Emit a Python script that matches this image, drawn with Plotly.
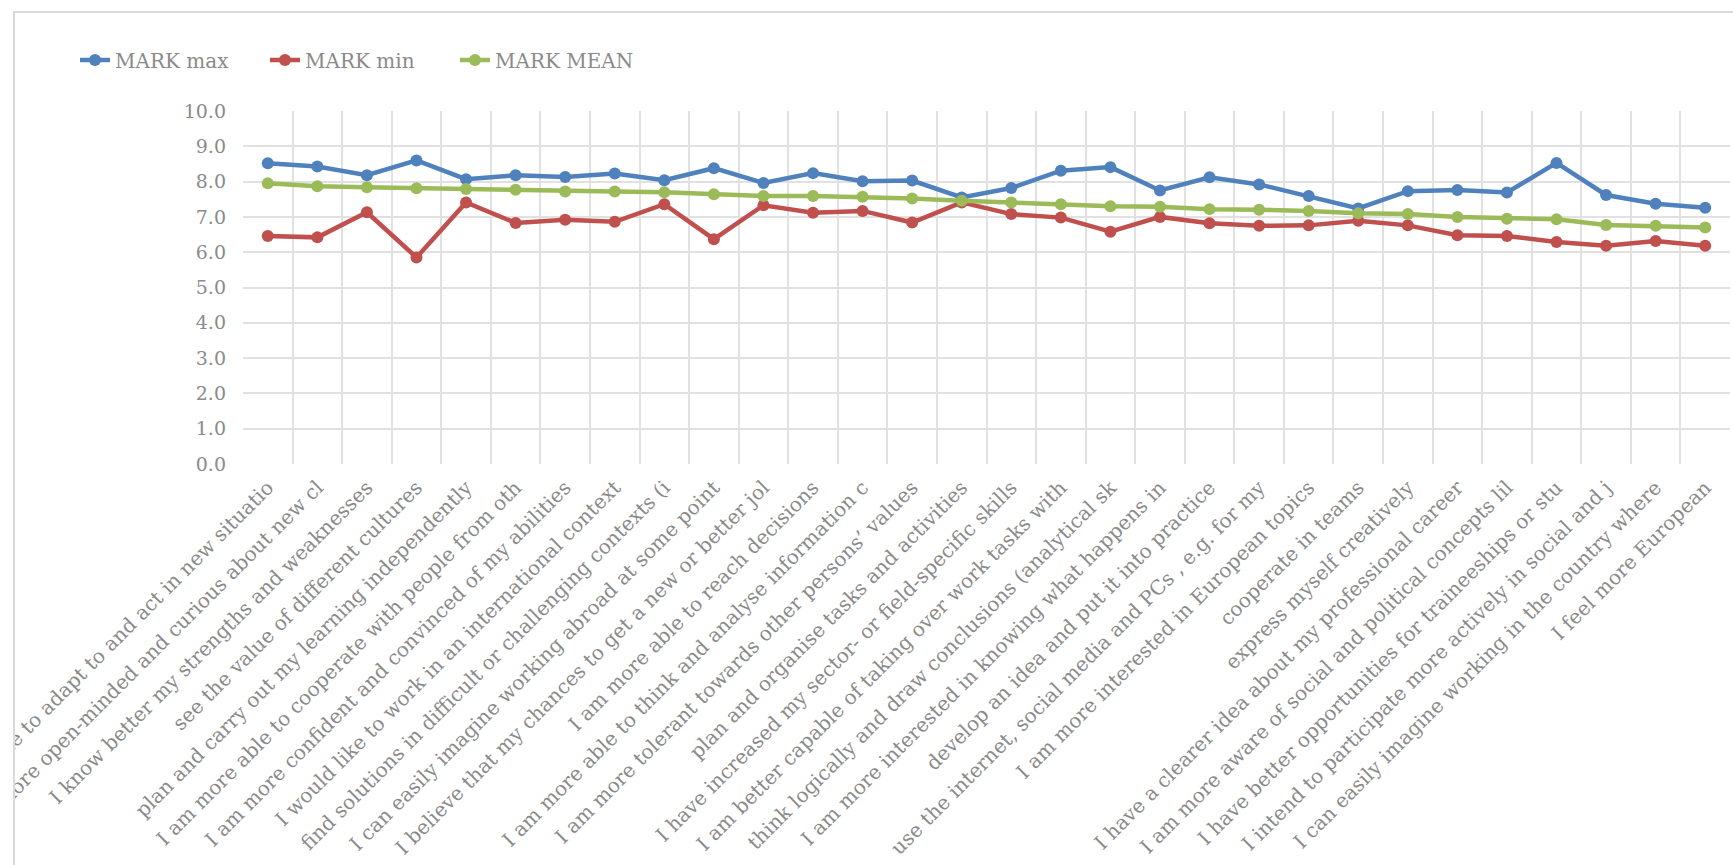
import plotly.graph_objects as go

# Survey items (x-axis categories), in the order they are plotted
categories = [
    "I am more able to adapt to and act in new situatio",
    "I am more open-minded and curious about new cl",
    "I know better my strengths and weaknesses",
    "see the value of different cultures",
    "plan and carry out my learning independently",
    "I am more able to cooperate with people from oth",
    "I am more confident and convinced of my abilities",
    "I would like to work in an international context",
    "find solutions in difficult or challenging contexts (i",
    "I can easily imagine working abroad at some point",
    "I believe that my chances to get a new or better jol",
    "I am more able to reach decisions",
    "I am more able to think and analyse information c",
    "I am more tolerant towards other persons\u2019 values",
    "plan and organise tasks and activities",
    "I have increased my sector- or field-specific skills",
    "I am better capable of taking over work tasks with",
    "think logically and draw conclusions (analytical sk",
    "I am more interested in knowing what happens in",
    "develop an idea and put it into practice",
    "use the internet, social media and PCs , e.g. for my",
    "I am more interested in European topics",
    "cooperate in teams",
    "express myself creatively",
    "I have a clearer idea about my professional career",
    "I am more aware of social and political concepts lil",
    "I have better opportunities for traineeships or stu",
    "I intend to participate more actively in social and j",
    "I can easily imagine working in the country where",
    "I feel more European",
]

mark_max = [8.52, 8.43, 8.18, 8.60, 8.07, 8.18, 8.13, 8.23, 8.04, 8.38,
            7.96, 8.24, 8.01, 8.03, 7.55, 7.82, 8.31, 8.41, 7.75, 8.12,
            7.92, 7.59, 7.24, 7.73, 7.76, 7.69, 8.53, 7.62, 7.37, 7.26]
mark_min = [6.46, 6.42, 7.13, 5.85, 7.41, 6.83, 6.92, 6.86, 7.36, 6.37,
            7.33, 7.12, 7.17, 6.84, 7.41, 7.08, 6.98, 6.58, 7.00, 6.82,
            6.75, 6.76, 6.89, 6.76, 6.48, 6.46, 6.29, 6.18, 6.32, 6.18]
mark_mean = [7.95, 7.87, 7.84, 7.81, 7.79, 7.77, 7.72, 7.72, 7.70, 7.64,
             7.59, 7.59, 7.57, 7.52, 7.46, 7.41, 7.36, 7.30, 7.29, 7.22,
             7.20, 7.17, 7.10, 7.08, 7.00, 6.95, 6.93, 6.77, 6.75, 6.70]

series_names = ["MARK max", "MARK min", "MARK MEAN"]
series_colors = ["#4F81BD", "#C0504D", "#9BBB59"]
y_ticks = [float(v) for v in range(0, 11)]

W, H = 1733, 865
L, R, T, B = 243, 3, 111, 401
plot_w = W - L - R
plot_h = H - T - B

FONT = "DejaVu Serif"
TEXT_COLOR = "#8a8a8a"
GRID_COLOR = "#e1e1e1"

x_idx = list(range(len(categories)))

fig = go.Figure()
for name, values, color in zip(series_names, [mark_max, mark_min, mark_mean], series_colors):
    fig.add_trace(go.Scatter(
        x=x_idx, y=values, name=name, mode="lines+markers",
        line=dict(color=color, width=4.5),
        marker=dict(color=color, size=12),
    ))


def px_to_paper_x(px):
    return (px - L) / plot_w


def px_to_paper_y(py):
    return (H - B - py) / plot_h


# chart-area frame and the mask that clips labels outside it
frame_left, frame_top = 14, 12
fig.add_shape(type="rect", xref="paper", yref="paper", layer="above",
              x0=px_to_paper_x(-20), x1=px_to_paper_x(frame_left - 1),
              y0=px_to_paper_y(H + 50), y1=px_to_paper_y(-20),
              fillcolor="white", line=dict(width=0))
fig.add_shape(type="rect", xref="paper", yref="paper", layer="above",
              x0=px_to_paper_x(frame_left), x1=px_to_paper_x(W + 20),
              y0=px_to_paper_y(H + 20), y1=px_to_paper_y(frame_top),
              fillcolor="rgba(0,0,0,0)", line=dict(color="#d9d9d9", width=2))

fig.update_layout(
    width=W, height=H,
    margin=dict(l=L, r=R, t=T, b=B, autoexpand=False),
    paper_bgcolor="white", plot_bgcolor="white",
    font=dict(family=FONT, size=20, color=TEXT_COLOR),
    showlegend=True,
    legend=dict(
        orientation="h", xref="container", yref="container",
        x=75 / W, y=1 - 60 / H, xanchor="left", yanchor="middle",
        entrywidth=145, entrywidthmode="pixels",
        font=dict(family=FONT, size=20, color=TEXT_COLOR),
        bgcolor="rgba(0,0,0,0)",
    ),
    xaxis=dict(
        range=[-0.5, len(categories) - 0.5],
        tickmode="array", tickvals=x_idx, ticktext=categories,
        tickangle=-45, showgrid=False, zeroline=False, showline=False,
        ticks="", automargin=False, ticklabeloverflow="allow",
        ticklabelstandoff=7,
        tickfont=dict(family=FONT, size=20, color=TEXT_COLOR),
        minor=dict(tickmode="array", tickvals=[i + 0.5 for i in x_idx[:-1]],
                   showgrid=True, gridcolor=GRID_COLOR, gridwidth=2, ticks=""),
    ),
    yaxis=dict(
        range=[0, 10], tickmode="array", tickvals=y_ticks, tickformat=".1f",
        showgrid=True, gridcolor=GRID_COLOR, gridwidth=2,
        zeroline=False, showline=False, ticks="", automargin=False,
        ticklabelstandoff=16,
        tickfont=dict(family=FONT, size=19, color=TEXT_COLOR),
    ),
)

fig.write_html("out.html")
